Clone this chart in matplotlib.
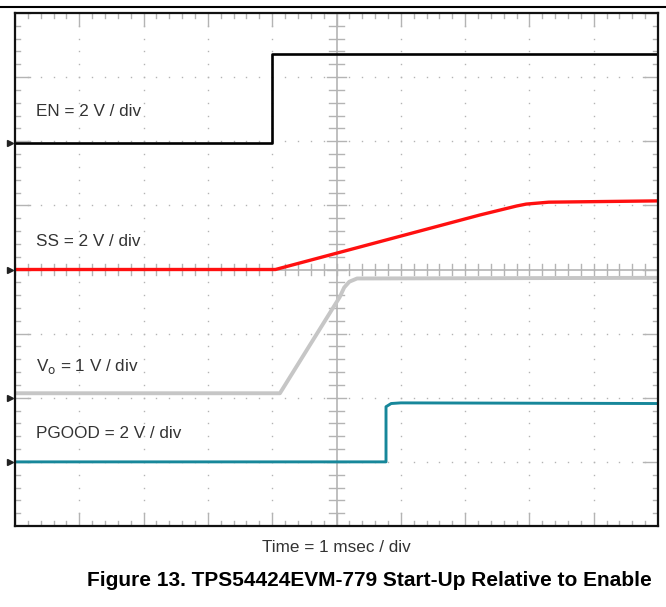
import numpy as np
import matplotlib.pyplot as plt

plt.rcParams['font.family'] = ['Liberation Sans', 'DejaVu Sans']

# 波形数据（单位：格，x 为时间格，y 为纵向格，底边为 0）
en_t = [0, 4.0, 4.0, 10]
en_v = [5.97, 5.97, 7.36, 7.36]

ss_t = [0, 4.05, 7.23, 7.8, 7.95, 8.3, 10]
ss_v = [4.0, 4.0, 4.85, 4.99, 5.02, 5.05, 5.07]

vo_t = [0, 4.12, 5.05, 5.12, 5.2, 5.32, 10]
vo_v = [2.07, 2.07, 3.57, 3.72, 3.81, 3.86, 3.87]

pg_t = [0, 5.77, 5.77, 5.85, 6.0, 10]
pg_v = [1.0, 1.0, 1.86, 1.91, 1.92, 1.91]

# 各通道接地标记位置
gnd_marks = [5.97, 4.0, 2.0, 1.0]

labels = ['EN = 2 V / div', 'SS = 2 V / div', r'V$_{\rm o}$ = 1 V / div', 'PGOOD = 2 V / div']
label_y = [6.47, 4.43, 2.48, 1.44]

grid_c = '#b4b4b4'

fig = plt.figure(figsize=(6.66, 6.07), dpi=100)
ax = fig.add_axes([15/666, 1-526/607, 643/666, 513/607])
ax.set_xlim(0, 10)
ax.set_ylim(0, 8)
ax.set_xticks([])
ax.set_yticks([])
for s in ax.spines.values():
    s.set_linewidth(1.6)
    s.set_color('#111111')

# 点状网格
sub_x = np.arange(0, 10.01, 0.2)
sub_y = np.arange(0, 8.01, 0.2)
for gx in range(1, 10):
    if gx == 5:
        continue
    ax.plot(np.full_like(sub_y, gx), sub_y, ls='none', marker='s', ms=1.0, color=grid_c, mew=0)
for gy in range(1, 8):
    if gy == 4:
        continue
    ax.plot(sub_x, np.full_like(sub_x, gy), ls='none', marker='s', ms=1.0, color=grid_c, mew=0)

# 中心十字线及刻度
ax.axvline(5, color=grid_c, lw=1.2)
ax.axhline(4, color=grid_c, lw=1.2)
for x in sub_x:
    ax.plot([x, x], [3.91, 4.09], color=grid_c, lw=1.0)
for y in sub_y:
    L = 0.14 if abs(y - round(y)) < 1e-6 else 0.12
    ax.plot([5 - L, 5 + L], [y, y], color=grid_c, lw=1.0)

# 边框刻度
for x in sub_x:
    L = 0.2 if abs(x - round(x)) < 1e-6 else 0.08
    ax.plot([x, x], [8, 8 - L], color=grid_c, lw=1.0)
    ax.plot([x, x], [0, L], color=grid_c, lw=1.0)
for y in sub_y:
    L = 0.23 if abs(y - round(y)) < 1e-6 else 0.08
    ax.plot([0, L], [y, y], color=grid_c, lw=1.0)
    ax.plot([10, 10 - L], [y, y], color=grid_c, lw=1.0)

# 波形
ax.plot(vo_t, vo_v, color='#c6c6c6', lw=2.8, solid_joinstyle='round')
ax.plot(en_t, en_v, color='#000000', lw=1.9)
ax.plot(ss_t, ss_v, color='#ff1010', lw=2.4)
ax.plot(pg_t, pg_v, color='#17879a', lw=2.1)

# 接地标记
ax.plot([-0.08] * len(gnd_marks), gnd_marks, ls='none', marker='>', ms=5,
        color='#222222', clip_on=False)

for txt, y in zip(labels, label_y):
    ax.text(0.33, y, txt, fontsize=12.3, color='#333333', va='center', ha='left')

fig.text(336/666, 1-547/607, 'Time = 1 msec / div', fontsize=12.3, color='#333333',
         ha='center', va='center')
fig.text(369/666, 1-581/607, 'Figure 13. TPS54424EVM-779 Start-Up Relative to Enable',
         fontsize=15, fontweight='bold', ha='center', va='center')

# 顶部横线
fig.add_artist(plt.Line2D([0, 1], [1-7/607, 1-7/607], color='black', lw=1.5))

fig.savefig('out.png', dpi=100)
